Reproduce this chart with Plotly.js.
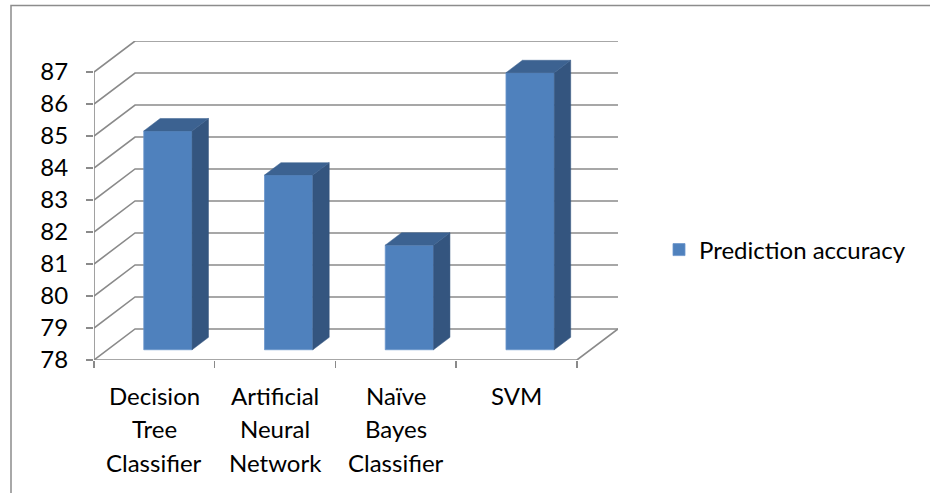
<!DOCTYPE html>
<html><head><meta charset="utf-8">
<script src="https://cdn.plot.ly/plotly-3.0.1.min.js"></script>
<style>html,body{margin:0;padding:0;background:#fff}</style>
</head><body><div id="chart" style="width:930px;height:493px"></div>
<script>
const categories = ["Decision Tree Classifier", "Artificial Neural Network", "Naïve Bayes Classifier", "SVM"];
const accuracy = [84.84, 83.46, 81.27, 86.66];
const seriesName = "Prediction accuracy";
const yTicks = [78, 79, 80, 81, 82, 83, 84, 85, 86, 87];

// oblique-projection depth offsets (axis units) and bar placement in depth
const DX = 0.34, DY = 0.97, F1 = 0.33, F2 = 0.73, HW = 0.2;
const BASE = yTicks[0], TOP = yTicks[yTicks.length - 1];
const N = categories.length;
const FONT = {family: "Lato, 'Open Sans', sans-serif", size: 24, color: "#000"};
const GRID = {color: "#8a8a8a", width: 1.6};

// plot area in px (for paper-referenced border)
const L = 94, T = 41, W = 524, H = 319;
const px2x = p => (p - L) / W, px2y = p => (T + H - p) / H;

const shapes = [];
yTicks.forEach(t => {
  shapes.push({type: "path", xref: "x", yref: "y", layer: "below", line: GRID,
    path: `M0,${t} L${DX},${t + DY} L${N + DX},${t + DY}`});
});
shapes.push({type: "path", xref: "x", yref: "y", layer: "below", line: GRID,
  path: `M0,${TOP} L0,${BASE} L${N},${BASE} L${N + DX},${BASE + DY}`});
// outer chart border (top and left only)
shapes.push({type: "path", xref: "paper", yref: "paper", layer: "below",
  line: {color: "#8c8c8c", width: 1.5},
  path: `M${px2x(930)},${px2y(5.5)} L${px2x(11)},${px2y(5.5)} L${px2x(11)},${px2y(493)}`});

const traces = [];
// front faces as real bars
traces.push({
  type: "bar", name: seriesName, showlegend: true,
  x: categories.map((c, i) => i + 0.5 + F1 * DX),
  y: accuracy.map(v => v - BASE),
  base: accuracy.map(() => BASE + F1 * DY),
  width: 2 * HW,
  marker: {color: "#4F81BD", line: {color: "#6b96cc", width: 0.8}},
  hoverinfo: "skip"
});
accuracy.forEach((v, i) => {
  const c = i + 0.5;
  const xL1 = c - HW + F1 * DX, xR1 = c + HW + F1 * DX;
  const xL2 = c - HW + F2 * DX, xR2 = c + HW + F2 * DX;
  const yb1 = BASE + F1 * DY, yb2 = BASE + F2 * DY;
  const yt1 = v + F1 * DY, yt2 = v + F2 * DY;
  traces.push({type: "scatter", mode: "lines", fill: "toself", showlegend: false, hoverinfo: "skip",
    x: [xR1, xR2, xR2, xR1, xR1], y: [yb1, yb2, yt2, yt1, yb1],
    fillcolor: "#34557f", line: {width: 0.5, color: "#34557f"}});
  traces.push({type: "scatter", mode: "lines", fill: "toself", showlegend: false, hoverinfo: "skip",
    x: [xL1, xR1, xR2, xL2, xL1], y: [yt1, yt1, yt2, yt2, yt1],
    fillcolor: "#3c6291", line: {width: 0.5, color: "#3c6291"}});
});

const annotations = [];
categories.forEach((c, i) => {
  c.split(" ").forEach((line, k) => {
    annotations.push({x: i + 0.5, y: BASE, xref: "x", yref: "y", text: line, showarrow: false,
      yanchor: "middle", xanchor: "center", yshift: -35 - 33.5 * k, font: FONT});
  });
});

const layout = {
  width: 930, height: 493,
  margin: {l: L, r: 930 - L - W, t: T, b: 493 - T - H, pad: 0},
  paper_bgcolor: "#fff", plot_bgcolor: "rgba(0,0,0,0)",
  showlegend: true,
  legend: {x: px2x(659), y: px2y(250), xanchor: "left", yanchor: "middle", font: FONT,
    bgcolor: "rgba(0,0,0,0)"},
  xaxis: {range: [0, N + DX], tickvals: [0, 1, 2, 3, 4], showticklabels: false, ticks: "outside",
    ticklen: 7, tickwidth: 1.5, tickcolor: "#8a8a8a", showgrid: false, zeroline: false, showline: false,
    fixedrange: true},
  yaxis: {range: [BASE, TOP + DY], tickvals: yTicks, ticks: "outside", ticklen: 7, tickwidth: 1.5,
    tickcolor: "#8a8a8a", tickfont: FONT, ticklabelstandoff: 13, showgrid: false, zeroline: false,
    showline: false, fixedrange: true},
  shapes: shapes,
  annotations: annotations
};
Plotly.newPlot("chart", traces, layout, {displayModeBar: false, staticPlot: true});
</script></body></html>
